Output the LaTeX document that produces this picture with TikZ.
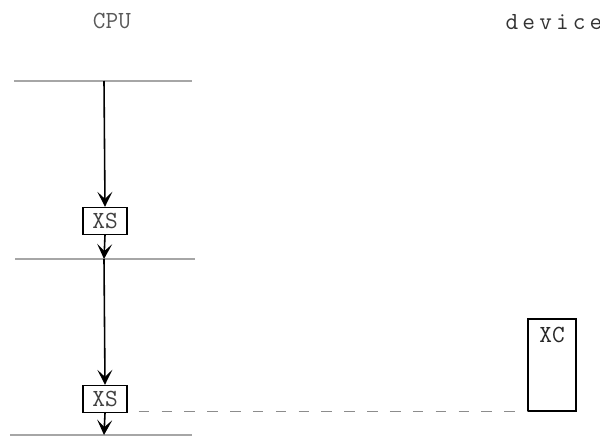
\documentclass[tikz,border=0pt]{standalone}
\usepackage{fontspec}
\usepackage{tikz}
\usetikzlibrary{arrows.meta,positioning}

\begin{document}
\begin{tikzpicture}[
    regbox/.style={rectangle, draw=black, thick, inner sep=1pt,
                   minimum width=0.88cm, minimum height=0.54cm,
                   font=\ttfamily\fontsize{14}{16}\selectfont, text=black!75},
    devbox/.style={rectangle, draw=black, thick,
                   minimum width=0.96cm, minimum height=1.84cm},
    arr/.style={-{Stealth[length=3mm, width=3mm, inset=1.4mm]}, line width=0.9pt},
    bus/.style={gray!70, thick},
    head/.style={font=\ttfamily\fontsize{14}{16}\selectfont, text=black!65}
  ]
  \useasboundingbox (0,0) rectangle (12,-8.74);

  %% ── headings ───────────────────────────────────────────────────────
  \node[head] (cpu) at (2.24,-0.42) {CPU};
  \node[head, text=black!80] (dev) at (11.08,-0.44) {d\,e\,v\,i\,c\,e};

  %% ── CPU column (x = 2.08) ──────────────────────────────────────────
  \coordinate (t1) at (2.08,-1.62);
  \coordinate (t2) at (2.08,-5.18);
  \coordinate (t3) at (2.08,-8.70);
  \draw[bus] (0.28,-1.62) -- (3.84,-1.62);
  \draw[bus] (0.30,-5.18) -- (3.90,-5.18);
  \draw[bus] (0.20,-8.70) -- (3.84,-8.70);

  \node[regbox] (xs1) at (2.10,-4.42) {XS};
  \node[regbox] (xs2) at (2.10,-7.98) {XS};
  \draw[arr] (t1)--(xs1.north);
  \draw[arr] (xs1.south)--(t2);
  \draw[arr] (t2)--(xs2.north);
  \draw[arr] (xs2.south)--(t3);

  %% ── device column (x = 11.04) ──────────────────────────────────────
  \node[devbox] (xc) at (11.04,-7.30) {};
  \node[head, text=black!85, below=0.05cm of xc.north] (xclab) {XC};

  %% ── link ───────────────────────────────────────────────────────────
  \draw[gray!90, thick, dash pattern=on 6pt off 7pt]
    ([xshift=0.22cm]xs2.east |- xc.south west) -- (xc.south west);

\end{tikzpicture}
\end{document}
